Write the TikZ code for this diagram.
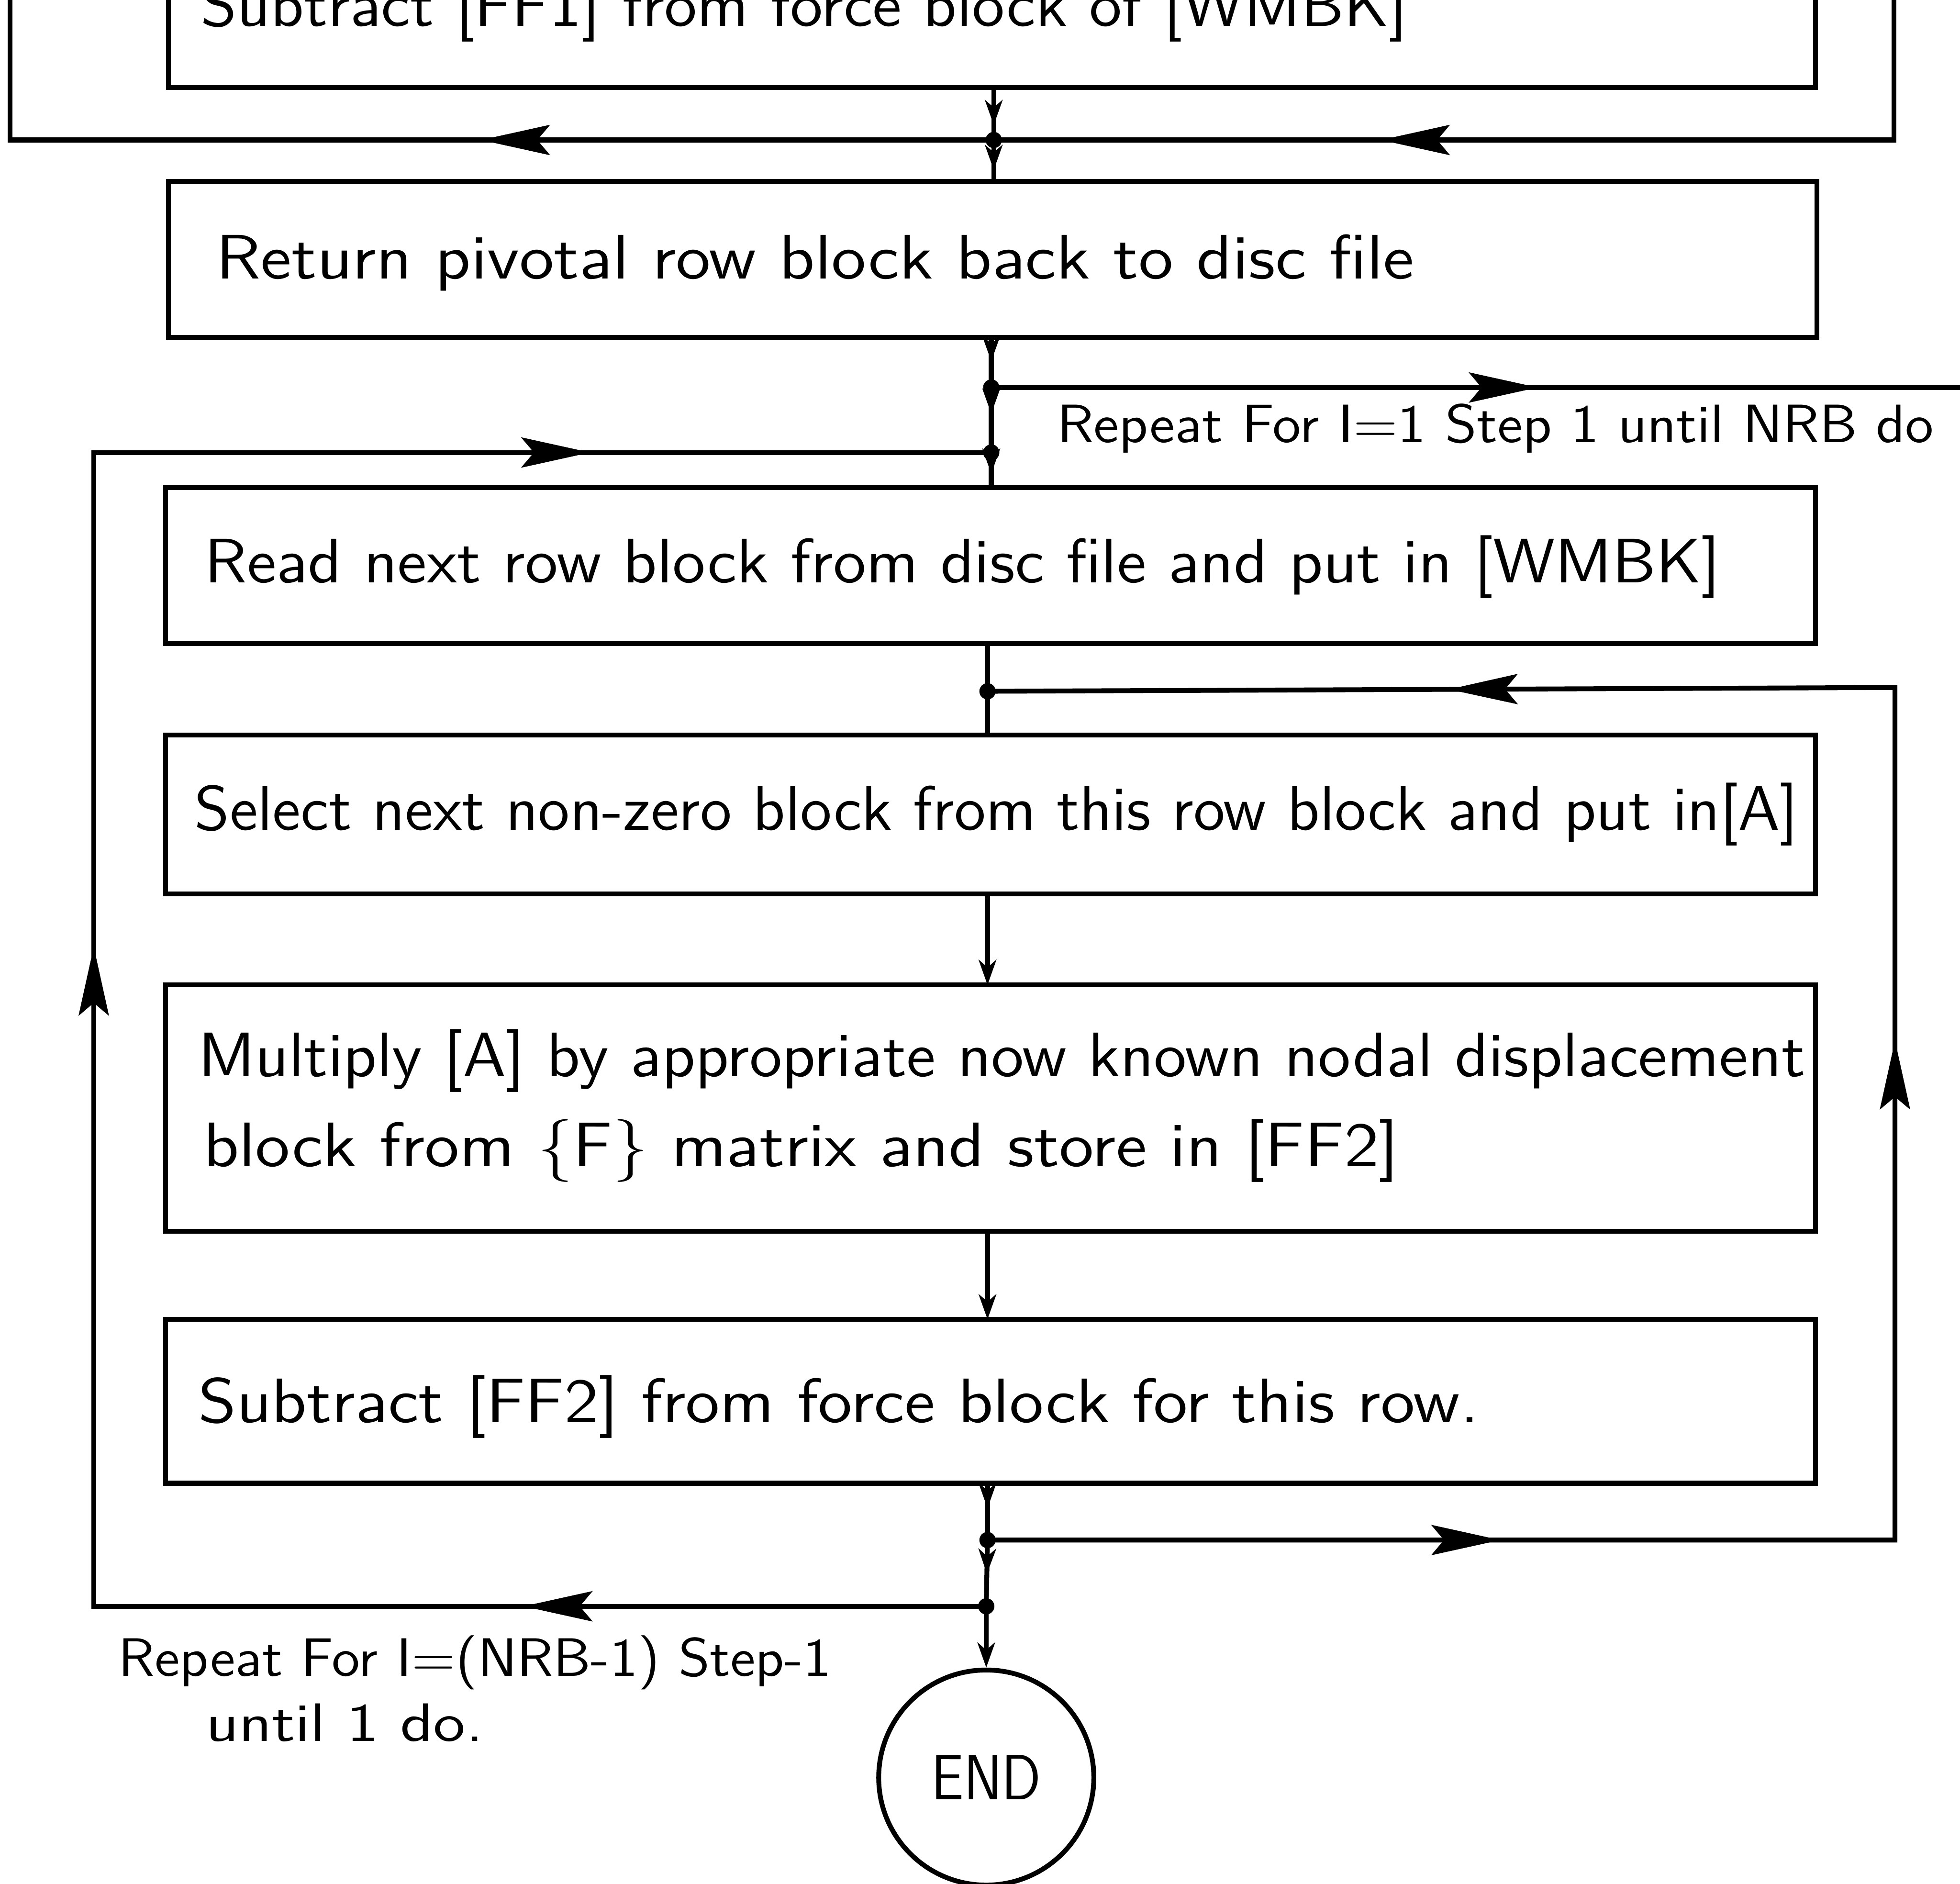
\documentclass[tikz,border=0pt]{standalone}
\usepackage{fontspec}
\usetikzlibrary{arrows.meta,decorations.markings,calc}
\newcommand{\fitw}[2]{\resizebox{#1cm}{\height}{#2}}
\tikzset{
  ln/.style={line width=1.1pt},
  box/.style={draw, line width=1.1pt, rectangle, inner sep=0pt, outer sep=0pt},
  txt/.style={anchor=base west, inner sep=0pt, font=\sffamily\fontsize{14.3pt}{17pt}\selectfont},
  lbl/.style={anchor=base west, inner sep=0pt, font=\sffamily\fontsize{12.3pt}{15pt}\selectfont},
  jdot/.style={circle, fill, inner sep=0pt, minimum size=0.13cm},
  bigtip/.tip={Stealth[length=5.5mm,width=2.4mm,inset=1mm]},
  smalltip/.tip={Stealth[length=2mm,width=1.4mm,inset=0.6mm]},
  bigmark/.style={postaction={decorate}, decoration={markings, mark=at position #1 with {\arrow{bigtip}}}},
  smallmark/.style={postaction={decorate}, decoration={markings, mark=at position #1 with {\arrow{smalltip}}}},
}
\begin{document}
\begin{tikzpicture}[x=0.01cm, y=-0.01cm]
\useasboundingbox (0,0) rectangle (1568,1507);
\clip (0,0) rectangle (1568,1507);

% boxes
\node[box, minimum width=13.17cm, minimum height=1.70cm] (B0) at (793.5,-15) {};
\node[box, minimum width=13.18cm, minimum height=1.25cm] (B1) at (794,207.5) {};
\node[box, minimum width=13.19cm, minimum height=1.25cm] (B2) at (792.5,452.5) {};
\node[box, minimum width=13.19cm, minimum height=1.27cm] (B3) at (792.5,651.5) {};
\node[box, minimum width=13.19cm, minimum height=1.97cm] (B4) at (792.5,886.5) {};
\node[box, minimum width=13.19cm, minimum height=1.31cm] (B5) at (792.5,1121) {};
\node[circle, draw, line width=1.1pt, minimum size=1.72cm, inner sep=0pt,
      font=\sffamily\fontsize{14.5pt}{17pt}\selectfont] (END) at (789,1422) {\fitw{0.88}{END}};

% box texts
\node[txt] (t0) at (160,21) {\fitw{9.65}{Subtract [FF1] from force block of [WMBK]}};
\node[txt] (t1) at (172,223) {\fitw{9.58}{Return pivotal row block back to disc file}};
\node[txt] (t2) at (163,466) {\fitw{12.12}{Read next row block from disc file and put in [WMBK]}};
\node[txt] (t3) at (155,664) {\fitw{12.82}{Select next non-zero block from this row block and put in[A]}};
\node[txt] (t4a) at (158,861) {\fitw{12.85}{Multiply [A] by appropriate now known nodal displacement}};
\node[txt] (t4b) at (162,933) {\fitw{9.56}{block from \{F\} matrix and store in [FF2]}};
\node[txt] (t5) at (158,1138) {\fitw{10.24}{Subtract [FF2] from force block for this row.}};

% loop labels
\node[lbl] (l1) at (845,354) {\fitw{7.01}{Repeat For I=1 Step 1 until NRB do}};
\node[lbl] (l2a) at (94,1341) {\fitw{5.70}{Repeat For I=(NRB-1) Step-1}};
\node[lbl] (l2b) at (164,1393) {\fitw{2.22}{until 1 do.}};

% junctions
\node[jdot] (j0) at (795,112) {};
\node[jdot] (j1) at (793,310) {};
\node[jdot] (j2) at (793,362) {};
\node[jdot] (j4) at (790,553) {};
\node[jdot] (j5) at (790,1232) {};
\node[jdot] (j3) at (789,1285) {};

% corners
\coordinate (tl1) at (8,112);
\coordinate (tl2) at (8,-10);
\coordinate (tr1) at (1515,112);
\coordinate (tr2) at (1515,-10);
\coordinate (rr) at (1600,310);
\coordinate (ll1) at (75,1285);
\coordinate (ll2) at (75,362);
\coordinate (rl1) at (1516,1232);
\coordinate (rl2) at (1516,550);

% top loops
\draw[ln, bigmark=4.10cm] (j0.center) -- (tl1) -- (tl2);
\draw[ln, bigmark=5.32cm] (tr2) -- (tr1) -- (j0.center);
\draw[ln, smallmark=0.30cm] (j0 |- B0.south) -- (j0.center);
\draw[ln, smallmark=0.24cm] (j0.center) -- (j0 |- B1.north);

% after box 1
\draw[ln, smallmark=0.19cm] (j1 |- B1.south) -- (j1.center);
\draw[ln, bigmark=4.37cm] (j1.center) -- (rr);
\draw[ln, smallmark=0.21cm] (j1.center) -- (j2.center);
\draw[ln, smallmark=0.17cm] (j2.center) -- (j2 |- B2.north);

% outer loop (left)
\draw[ln, postaction={decorate}, decoration={markings,
   mark=at position 3.70cm with {\arrow{bigtip}},
   mark=at position 12.41cm with {\arrow{bigtip}},
   mark=at position 20.33cm with {\arrow{bigtip}}}]
   (j3.center) -- (ll1) -- (ll2) -- (j2.center);

% inner loop (right)
\draw[ln] (j4 |- B2.south) -- (j4.center) -- (j4 |- B3.north);
\draw[ln, postaction={decorate}, decoration={markings,
   mark=at position 4.10cm with {\arrow{bigtip}},
   mark=at position 11.25cm with {\arrow{bigtip}},
   mark=at position 17.64cm with {\arrow{bigtip}}}]
   (j5.center) -- (rl1) -- (rl2) -- (j4.center);

% trunk
\draw[ln, -{smalltip}] (j4 |- B3.south) -- (j4 |- B4.north);
\draw[ln, -{smalltip}] (j4 |- B4.south) -- (j4 |- B5.north);
\draw[ln, smallmark=0.20cm] (j5 |- B5.south) -- (j5.center);
\draw[ln, smallmark=0.27cm] (j5.center) -- (j3.center);
\draw[ln, -{smalltip}] (j3.center) -- (END.north);
\end{tikzpicture}
\end{document}
